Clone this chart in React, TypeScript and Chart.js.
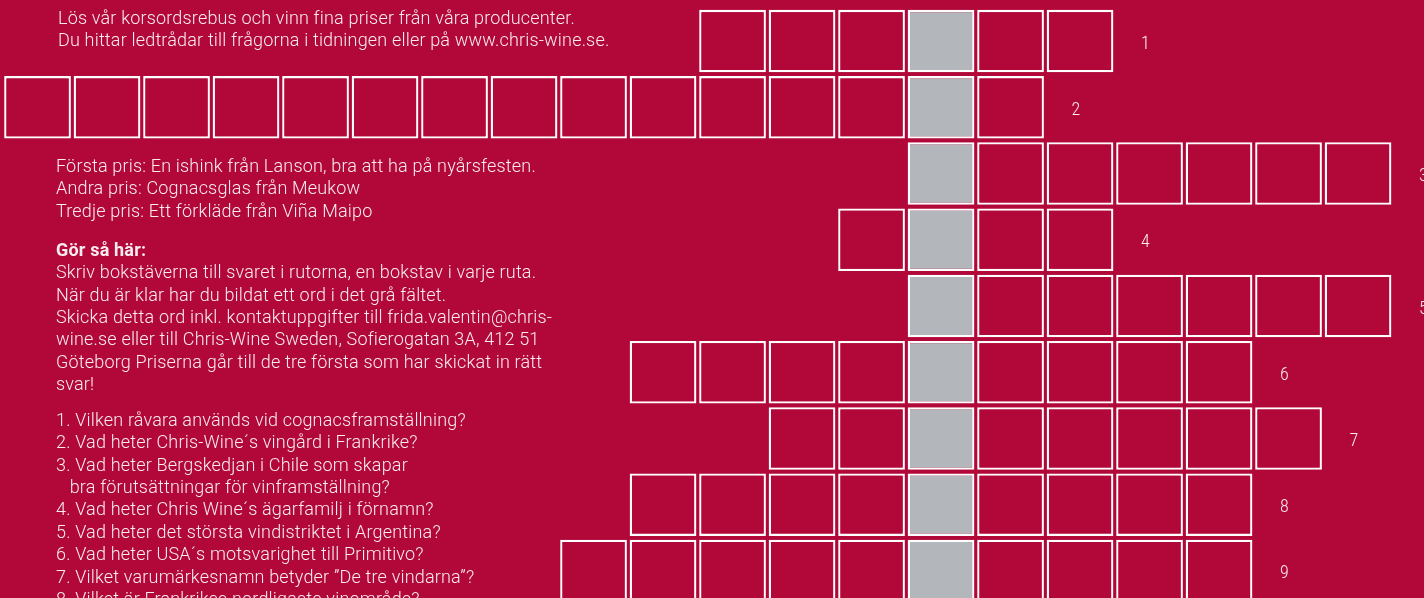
import React, { useEffect, useRef } from 'react';
import { Chart, registerables } from 'chart.js';

Chart.register(...registerables);

// ---- data ----
const rowLabels = ['1', '2', '3', '4', '5', '6', '7', '8', '9'];
// first and last box column of each answer, counted from the grey solution column (0)
const rowStart = [-3, -13, 0, -1, 0, -4, -2, -4, -5];
const rowEnd = [2, 1, 6, 2, 6, 4, 5, 4, 4];
const solutionColumn = 0;

const introLines = [
  'Lös vår korsordsrebus och vinn fina priser från våra producenter.',
  'Du hittar ledtrådar till frågorna i tidningen eller på www.chris-wine.se.',
];
const prizeLines = [
  'Första pris: En ishink från Lanson, bra att ha på nyårsfesten.',
  'Andra pris: Cognacsglas från Meukow',
  'Tredje pris: Ett förkläde från Viña Maipo',
];
const howToTitle = 'Gör så här:';
const howToLines = [
  'Skriv bokstäverna till svaret i rutorna, en bokstav i varje ruta.',
  'När du är klar har du bildat ett ord i det grå fältet.',
  'Skicka detta ord inkl. kontaktuppgifter till frida.valentin@chris-',
  'wine.se eller till Chris-Wine Sweden, Sofierogatan 3A, 412 51',
  'Göteborg Priserna går till de tre första som har skickat in rätt',
  'svar!',
];
const questionLines = [
  '1. Vilken råvara används vid cognacsframställning?',
  '2. Vad heter Chris-Wine´s vingård i Frankrike?',
  '3. Vad heter Bergskedjan i Chile som skapar',
  '   bra förutsättningar för vinframställning?',
  '4. Vad heter Chris Wine´s ägarfamilj i förnamn?',
  '5. Vad heter det största vindistriktet i Argentina?',
  '6. Vad heter USA´s motsvarighet till Primitivo?',
  '7. Vilket varumärkesnamn betyder ”De tre vindarna”?',
  '8. Vilket är Frankrikes nordligaste vinområde?',
];

// ---- styles ----
const BG = '#b20839';
const GREY = '#b3b7bc';
const TEXT = 'rgba(255,255,255,0.92)';
const FONT = 'Roboto, "Liberation Sans", sans-serif';
const NUM_FONT = '"Roboto Condensed", Roboto, sans-serif';
const LH = 22.4;

function Block({ top, left, lines, bold }: { top: number; left: number; lines: string[]; bold?: boolean }) {
  return (
    <div
      style={{
        position: 'absolute',
        top,
        left,
        fontFamily: FONT,
        fontWeight: 300,
        fontSize: 18,
        letterSpacing: '0.18px',
        lineHeight: `${LH}px`,
        color: TEXT,
        whiteSpace: 'pre',
      }}
    >
      {lines.map((l, i) => (
        <div key={i} style={{ fontWeight: bold && i === 0 ? 700 : 300 }}>
          {l}
        </div>
      ))}
    </div>
  );
}

export default function App() {
  const ref = useRef<HTMLCanvasElement>(null);

  useEffect(() => {
    document.body.style.margin = '0';
    document.body.style.overflow = 'hidden';
    const firstCol = Math.min(...rowStart);
    const lastCol = Math.max(...rowEnd);
    const half = 0.48;
    const datasets: any[] = [];
    for (let k = firstCol; k <= lastCol; k++) {
      datasets.push({
        label: `kolumn ${k}`,
        data: rowLabels.map((_, i) => (k >= rowStart[i] && k <= rowEnd[i] ? [k - half, k + half] : null)),
        backgroundColor: k === solutionColumn ? GREY : BG,
        borderColor: '#ffffff',
        borderWidth: 2.3,
        borderSkipped: false,
        grouped: false,
        barPercentage: 0.944,
        categoryPercentage: 1,
      });
    }
    const rowNumbers = {
      id: 'rowNumbers',
      afterDatasetsDraw(chart: any) {
        const ctx = chart.ctx;
        const xs = chart.scales.x;
        const ys = chart.scales.y;
        ctx.save();
        ctx.fillStyle = TEXT;
        ctx.font = `300 18px ${NUM_FONT}`;
        ctx.textAlign = 'center';
        ctx.textBaseline = 'middle';
        rowLabels.forEach((lab, i) => {
          const px = xs.getPixelForValue(rowEnd[i] + half) + 32;
          const py = ys.getPixelForValue(i) + 3;
          ctx.fillText(lab, px, py);
        });
        ctx.restore();
      },
    };
    const chart = new Chart(ref.current!, {
      type: 'bar',
      data: { labels: rowLabels, datasets },
      options: {
        indexAxis: 'y',
        responsive: false,
        animation: false,
        layout: { padding: { top: 8, left: 0, right: 0, bottom: 0 } },
        scales: {
          x: { type: 'linear', min: -13.54, max: 6.949, display: false },
          y: { type: 'category', display: false, offset: true },
        },
        plugins: { legend: { display: false }, tooltip: { enabled: false } },
      } as any,
      plugins: [rowNumbers],
    });
    return () => chart.destroy();
  }, []);

  return (
    <div style={{ position: 'relative', width: 1424, height: 598, overflow: 'hidden', background: BG }}>
      <canvas ref={ref} width={1424} height={604} style={{ position: 'absolute', left: 0, top: 0 }} />
      <Block top={18 - LH / 2} left={58} lines={introLines} />
      <Block top={166 - LH / 2} left={56} lines={prizeLines} />
      <Block top={250 - LH / 2} left={56} lines={[howToTitle, ...howToLines]} bold />
      <Block top={420 - LH / 2} left={56} lines={questionLines} />
    </div>
  );
}
